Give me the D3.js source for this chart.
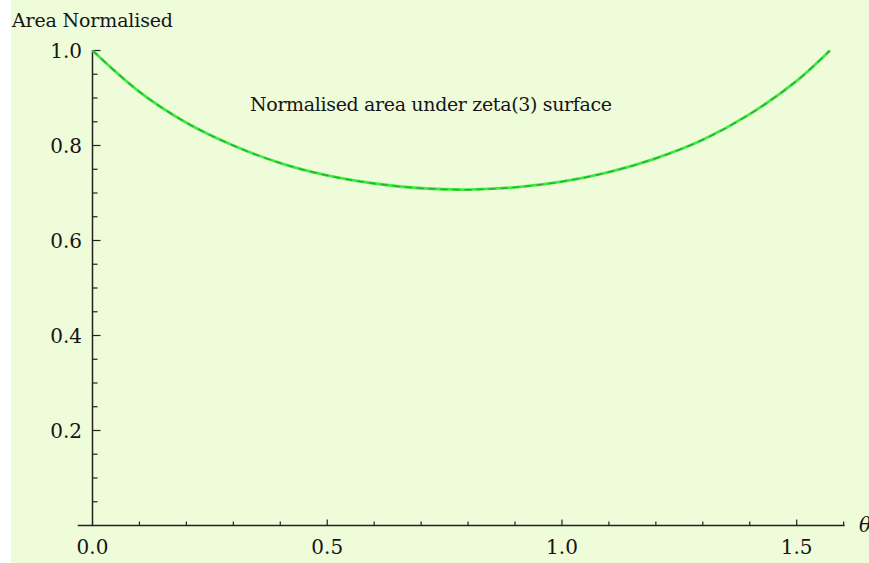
<!DOCTYPE html>
<meta charset="utf-8" />
<style>
  body { margin: 0; background: #fff; }
  text { font-family: "DejaVu Serif", serif; font-size: 19px; fill: #151515; }
  .tick-label { font-size: 20px; }
</style>
<body>
  <script src="https://d3js.org/d3.v7.min.js"></script>
  <script>
    // data
    const theta = [0, 0.1, 0.2, 0.3, 0.4, 0.5, 0.6, 0.7, 0.8, 0.9, 1.0, 1.1, 1.2, 1.3, 1.4, 1.5, 1.5708];
    const area = [1.0, 0.913, 0.848, 0.800, 0.763, 0.737, 0.720, 0.710, 0.707, 0.712, 0.724, 0.744, 0.773, 0.812, 0.866, 0.936, 1.0];
    const xMajor = [0.0, 0.5, 1.0, 1.5];
    const yMajor = [0.2, 0.4, 0.6, 0.8, 1.0];
    const xTickLabels = ["0.0", "0.5", "1.0", "1.5"];
    const yTickLabels = ["0.2", "0.4", "0.6", "0.8", "1.0"];

    const W = 869, H = 563;
    const svg = d3.select("body").append("svg").attr("width", W).attr("height", H);

    // pale plot background, white strip at the left
    svg.append("rect").attr("x", 11).attr("y", 0).attr("width", W - 11).attr("height", H).attr("fill", "#eefcda");

    const x = d3.scaleLinear().domain([0, 1.5]).range([92.5, 796.7]);
    const y = d3.scaleLinear().domain([0, 1]).range([525.5, 50.5]);

    const axisColor = "#222";
    // x axis line, padded a little each side
    svg.append("line")
      .attr("x1", x(-0.0314)).attr("x2", x(1.602))
      .attr("y1", y(0)).attr("y2", y(0))
      .attr("stroke", axisColor).attr("stroke-width", 1.5);
    // y axis line
    svg.append("line")
      .attr("x1", x(0)).attr("x2", x(0))
      .attr("y1", y(0)).attr("y2", y(1))
      .attr("stroke", axisColor).attr("stroke-width", 1.5);

    // x ticks every 0.1
    const xt = d3.range(1, 17).map(i => i / 10);
    svg.append("g").selectAll("line").data(xt).join("line")
      .attr("x1", d => x(d)).attr("x2", d => x(d))
      .attr("y1", y(0))
      .attr("y2", d => y(0) - (Math.abs(d * 2 - Math.round(d * 2)) < 1e-6 ? 6 : 4))
      .attr("stroke", axisColor).attr("stroke-width", 1.2);

    // y ticks every 0.05
    const yt = d3.range(1, 21).map(i => i / 20);
    svg.append("g").selectAll("line").data(yt).join("line")
      .attr("y1", d => y(d)).attr("y2", d => y(d))
      .attr("x1", x(0))
      .attr("x2", d => x(0) + (Math.abs(d * 5 - Math.round(d * 5)) < 1e-6 ? 8 : 5))
      .attr("stroke", axisColor).attr("stroke-width", 1.2);

    // tick labels
    svg.append("g").selectAll("text").data(xMajor).join("text")
      .attr("class", "tick-label")
      .attr("x", d => x(d)).attr("y", 554)
      .attr("text-anchor", "middle")
      .text((d, i) => xTickLabels[i]);

    svg.append("g").selectAll("text").data(yMajor).join("text")
      .attr("class", "tick-label")
      .attr("x", 82).attr("y", d => y(d) + 7)
      .attr("text-anchor", "end")
      .text((d, i) => yTickLabels[i]);

    // axis labels
    svg.append("text").attr("x", 12).attr("y", 27).attr("textLength", 161).text("Area Normalised");
    svg.append("text").attr("x", 859).attr("y", 532).style("font-style", "italic").style("font-size", "20px").text("θ");

    // the curve
    const line = d3.line()
      .x((d, i) => x(theta[i]))
      .y(d => y(d))
      .curve(d3.curveCatmullRom);

    svg.append("path").datum(area)
      .attr("d", line)
      .attr("fill", "none")
      .attr("stroke", "#3ded3d")
      .attr("stroke-width", 2.8);
    svg.append("path").datum(area)
      .attr("d", line)
      .attr("fill", "none")
      .attr("stroke", "#2f8a45")
      .attr("stroke-opacity", 0.7)
      .attr("stroke-width", 1.5)
      .attr("stroke-dasharray", "7,5");

    // plot text
    svg.append("text").attr("x", 250).attr("y", 111).attr("textLength", 362).text("Normalised area under zeta(3) surface");
  </script>
</body>
